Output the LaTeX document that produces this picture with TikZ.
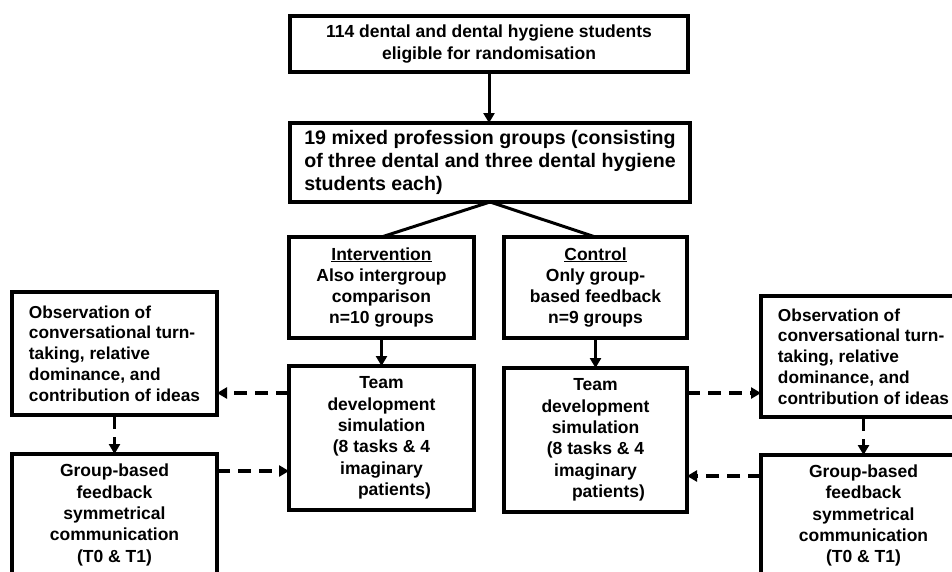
\documentclass[tikz,border=0pt]{standalone}
\usepackage{fontspec}
\setmainfont{Liberation Sans}
\usetikzlibrary{arrows.meta,calc}
\begin{document}
\begin{tikzpicture}[x=1pt,y=-1pt,
  box/.style={draw,line width=3.2pt,rectangle,inner sep=0pt,outer sep=0pt,font=\bfseries\fontsize{17.5}{21.3}\selectfont},
  obsbox/.style={box,font=\bfseries\fontsize{17.3}{20.7}\selectfont,align=left},
  solidarrow/.style={line width=3pt,-{Triangle[length=10pt,width=11pt]}},
  dasharrow/.style={line width=3.2pt,dash pattern=on 13pt off 8pt,-{Triangle[length=10pt,width=11pt]}},
  plainline/.style={line width=3pt}]
\useasboundingbox (0,0) rectangle (952,571);
\clip (0,0) rectangle (952,571);
\fill[white] (0,0) rectangle (952,571);

\node[box,minimum width=398pt,minimum height=56pt,align=center] (A) at (489,44)
  {114 dental and dental hygiene students\\eligible for randomisation};
\node[box,minimum width=400pt,minimum height=79pt,align=left,
  font=\bfseries\fontsize{19.6}{23}\selectfont] (B) at (490,162.5)
  {19 mixed profession groups (consisting\\of three dental and three dental hygiene\\students each)};

\node[box,minimum width=185pt,minimum height=101pt,align=center] (intv) at (381.5,287.5)
  {\underline{Intervention}\\Also intergroup\\comparison\\n=10 groups};
\node[box,minimum width=183pt,minimum height=101pt,align=center] (ctrl) at (595.5,287.5)
  {\underline{Control}\\Only group-\\based feedback\\n=9 groups};

\node[box,minimum width=185pt,minimum height=144pt,align=center] (teamL) at (381.5,438)
  {Team\\development\\simulation\\(8 tasks \& 4\\imaginary\\\hspace*{26pt}patients)};
\node[box,minimum width=183pt,minimum height=144pt,align=center] (teamR) at (595.5,440)
  {Team\\development\\simulation\\(8 tasks \& 4\\imaginary\\\hspace*{26pt}patients)};

\node[obsbox,minimum width=205pt,minimum height=123pt] (obsL) at (114.5,353.5)
  {Observation of\\conversational turn-\\taking, relative\\dominance, and\\contribution of ideas};
\node[obsbox,minimum width=205pt,minimum height=121pt] (obsR) at (863.5,356.5)
  {Observation of\\conversational turn-\\taking, relative\\dominance, and\\contribution of ideas};

\node[box,minimum width=205pt,minimum height=122pt,align=center] (grpL) at (114.5,515)
  {Group-based\\feedback\\symmetrical\\communication\\(T0 \& T1)};
\node[box,minimum width=205pt,minimum height=121pt,align=center] (grpR) at (863.5,515.5)
  {Group-based\\feedback\\symmetrical\\communication\\(T0 \& T1)};

\draw[solidarrow] (A.south) -- (A.south |- B.north);
\draw[plainline] (B.south) -- (intv.north);
\draw[plainline] (B.south) -- (ctrl.north);
\draw[solidarrow] (intv.south) -- (teamL.north);
\draw[solidarrow] (ctrl.south) -- (teamR.north);

\draw[dasharrow] ([yshift=45pt]teamL.west) -- ([yshift=45pt]teamL.west -| obsL.east);
\draw[dasharrow] ([yshift=44pt]grpL.east) -- ([yshift=44pt]grpL.east -| teamL.west);
\draw[dasharrow] ([yshift=47pt]teamR.east) -- ([yshift=47pt]teamR.east -| obsR.west);
\draw[dasharrow] ([yshift=39.5pt]grpR.west) -- ([yshift=39.5pt]grpR.west -| teamR.east);

\draw[dasharrow,dash pattern=on 14pt off 8pt] (obsL.south) -- (obsL.south |- grpL.north);
\draw[dasharrow,dash pattern=on 14pt off 8pt] (obsR.south) -- (obsR.south |- grpR.north);
\end{tikzpicture}
\end{document}
